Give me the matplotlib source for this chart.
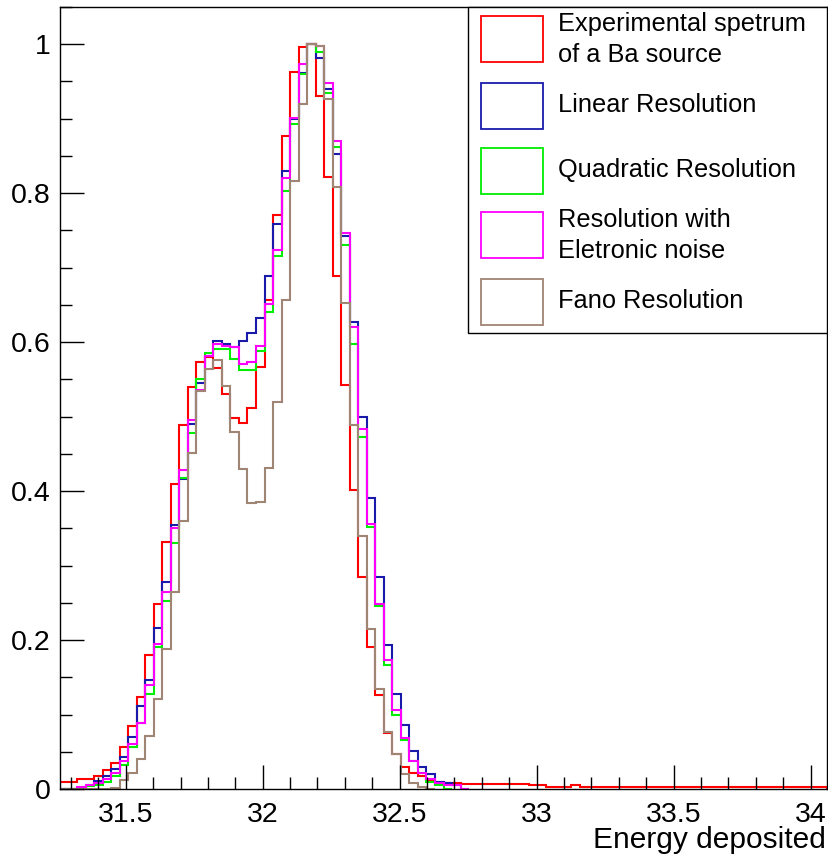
import numpy as np
import matplotlib.pyplot as plt
from matplotlib.patches import Rectangle
from matplotlib.ticker import MultipleLocator, FormatStrFormatter

plt.rcParams["font.family"] = ["Liberation Sans", "DejaVu Sans"]

# histogram binning (ROOT TH1, 90 bins)
x_min, x_max, n_bins = 31.26, 34.06, 90

# normalised bin contents (bin 0 upwards)
experimental = [
    0.010, 0.010, 0.013, 0.013, 0.017, 0.025, 0.035, 0.056, 0.084, 0.123,
    0.180, 0.248, 0.332, 0.409, 0.489, 0.540, 0.574, 0.580, 0.565, 0.531,
    0.498, 0.492, 0.512, 0.566, 0.656, 0.771, 0.877, 0.963, 0.996, 1.000,
    0.931, 0.822, 0.689, 0.542, 0.402, 0.285, 0.191, 0.126, 0.075, 0.047,
    0.030, 0.021, 0.017, 0.012, 0.010, 0.008, 0.008, 0.007, 0.007, 0.007,
    0.007, 0.007, 0.007, 0.007, 0.007, 0.006, 0.006, 0.003, 0.003, 0.003,
    0.006, 0.003, 0.003, 0.003, 0.003, 0.003, 0.003, 0.003, 0.003, 0.003,
    0.003, 0.003, 0.003, 0.003, 0.003, 0.003, 0.003, 0.003, 0.003, 0.003,
    0.003, 0.003, 0.003, 0.003, 0.003, 0.003, 0.003, 0.003, 0.003, 0.003,
]
linear = [
    0.0, 0.0, 0.0, 0.006, 0.011, 0.017, 0.027, 0.043, 0.070, 0.111,
    0.147, 0.216, 0.278, 0.354, 0.416, 0.490, 0.545, 0.582, 0.601, 0.597,
    0.593, 0.601, 0.612, 0.633, 0.689, 0.759, 0.830, 0.900, 0.962, 1.000,
    0.982, 0.940, 0.853, 0.742, 0.627, 0.500, 0.391, 0.284, 0.194, 0.127,
    0.086, 0.051, 0.030, 0.020, 0.010, 0.008, 0.006, 0.0,
]
quadratic = [
    0.0, 0.0, 0.0, 0.004, 0.005, 0.009, 0.018, 0.032, 0.057, 0.088,
    0.127, 0.191, 0.253, 0.330, 0.418, 0.478, 0.550, 0.586, 0.591, 0.591,
    0.577, 0.563, 0.563, 0.588, 0.641, 0.715, 0.803, 0.893, 0.960, 1.000,
    0.989, 0.934, 0.862, 0.730, 0.597, 0.473, 0.352, 0.246, 0.166, 0.100,
    0.066, 0.038, 0.021, 0.010, 0.005, 0.0,
]
electronic = [
    0.0, 0.0, 0.003, 0.005, 0.008, 0.013, 0.021, 0.038, 0.061, 0.088,
    0.139, 0.195, 0.264, 0.350, 0.428, 0.495, 0.536, 0.582, 0.597, 0.595,
    0.593, 0.570, 0.573, 0.595, 0.651, 0.724, 0.821, 0.901, 0.974, 1.000,
    0.998, 0.948, 0.870, 0.747, 0.621, 0.483, 0.356, 0.249, 0.173, 0.106,
    0.068, 0.038, 0.021, 0.013, 0.008, 0.006, 0.006, 0.0,
]
fano = [
    0.0, 0.0, 0.0, 0.0, 0.0, 0.0, 0.002, 0.012, 0.022, 0.040,
    0.071, 0.121, 0.188, 0.264, 0.360, 0.451, 0.535, 0.564, 0.576, 0.541,
    0.480, 0.429, 0.384, 0.386, 0.431, 0.519, 0.656, 0.816, 0.920, 1.000,
    0.998, 0.927, 0.808, 0.653, 0.489, 0.340, 0.215, 0.134, 0.077, 0.047,
    0.020, 0.008, 0.003, 0.0,
]

series = [
    (experimental, "#ff0000", ["Experimental spetrum", "of a Ba source"]),
    (linear, "#1a1aaa", ["Linear Resolution"]),
    (quadratic, "#00ee00", ["Quadratic Resolution"]),
    (electronic, "#ff00ff", ["Resolution with", "Eletronic noise"]),
    (fano, "#a08474", ["Fano Resolution"]),
]

W, H = 829, 859
fig = plt.figure(figsize=(W / 100, H / 100), dpi=100)
ax = fig.add_axes([60 / W, 1 - 789 / H, 767 / W, 782 / H])

edges = np.linspace(x_min, x_max, n_bins + 1)
for values, color, _ in series:
    ax.stairs(values, edges[: len(values) + 1], color=color, lw=1.5)

ax.set_xlim(x_min, x_max)
ax.set_ylim(0, 1.05)

ax.xaxis.set_major_locator(MultipleLocator(0.5))
ax.xaxis.set_minor_locator(MultipleLocator(0.1))
ax.yaxis.set_major_locator(MultipleLocator(0.2))
ax.yaxis.set_minor_locator(MultipleLocator(0.05))
ax.xaxis.set_major_formatter(FormatStrFormatter("%g"))
ax.yaxis.set_major_formatter(FormatStrFormatter("%g"))

ax.tick_params(which="both", direction="in", top=False, right=False, width=1,
               labelsize=20.5)
ax.tick_params(which="major", length=17)
ax.tick_params(which="minor", length=8.5)
ax.tick_params(axis="x", pad=9)
ax.tick_params(axis="y", pad=7)
for s in ax.spines.values():
    s.set_linewidth(1)

fig.text(826 / W, 1 - 840 / H, "Energy deposited", ha="right", va="center",
         fontsize=21.5)


# legend box, drawn by hand in ROOT TLegend style
def fxy(x, y):
    return x / W, 1 - y / H


lx, ly = fxy(468, 333)
fig.add_artist(Rectangle((lx, ly), 359 / W, 326 / H, transform=fig.transFigure,
                         facecolor="white", edgecolor="black", lw=1, zorder=5))

swatch_y = [39, 105.5, 170.5, 235, 301.5]
for (values, color, lines), yc in zip(series, swatch_y):
    sx, sy = fxy(481, yc + 23)
    fig.add_artist(Rectangle((sx, sy), 62 / W, 46 / H, transform=fig.transFigure,
                             facecolor="none", edgecolor=color, lw=1.3, zorder=6))
    if len(lines) == 1:
        offsets = [0]
    else:
        offsets = [-15, 16]
    for text, dy in zip(lines, offsets):
        tx, ty = fxy(558, yc + dy)
        fig.text(tx, ty, text, ha="left", va="center", fontsize=18.3, zorder=7)

fig.savefig("out.png", dpi=100)
